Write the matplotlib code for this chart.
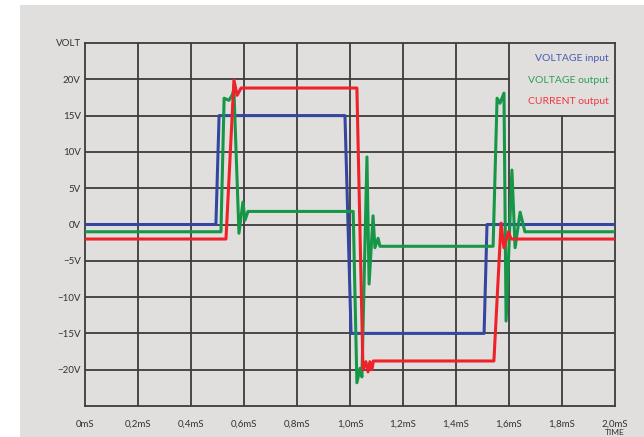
import matplotlib
matplotlib.use('Agg')
import matplotlib.pyplot as plt
from matplotlib.patches import Rectangle

# time in ms, volts
t_in = [0, 0.494, 0.506, 0.981, 1.004, 1.506, 1.517, 2.0]
v_in = [0, 0, 15, 15, -15, -15, 0, 0]

t_out = [0, 0.513, 0.525, 0.543, 0.555, 0.562, 0.581, 0.596, 0.604, 0.615, 1.012,
         1.026, 1.038, 1.045, 1.064, 1.072, 1.087, 1.094, 1.106, 1.113, 1.540,
         1.555, 1.566, 1.581, 1.589, 1.611, 1.623, 1.642, 1.660, 2.0]
v_out = [-1, -1, 17.4, 17.1, 17.8, 18.5, -1.2, 3.1, 0.6, 1.8, 1.8,
         -21.8, -19.8, -21.0, 9.3, -8.2, 1.2, -3.2, -1.9, -3.0, -3.0,
         17.4, 16.7, 18.1, -13.3, 7.5, -3.2, 1.7, -1.0, -1.0]

t_cur = [0, 0.532, 0.562, 0.574, 0.589, 1.026, 1.049, 1.060, 1.068, 1.075, 1.083,
         1.088, 1.543, 1.570, 1.581, 1.598, 1.608, 2.0]
v_cur = [-2, -2, 19.9, 17.8, 18.8, 18.8, -20.0, -18.9, -20.3, -18.9, -20.0,
         -18.8, -18.8, 0.2, -3.2, -1.0, -2.0, -2.0]

xticks = [0, 0.2, 0.4, 0.6, 0.8, 1.0, 1.2, 1.4, 1.6, 1.8, 2.0]
xlabels = ['0mS', '0,2mS', '0,4mS', '0,6mS', '0,8mS', '1,0mS', '1,2mS', '1,4mS',
           '1,6mS', '1,8mS', '2,0mS']
yticks = [-20, -15, -10, -5, 0, 5, 10, 15, 20, 25]
ylabels = ['\u221220V', '\u221215V', '\u221210V', '\u22125V', '0V', '5V', '10V',
           '15V', '20V', 'VOLT']

bg = '#e0dfde'
blue = '#3447a0'
green = '#169647'
red = '#ee2228'

plt.rcParams['font.family'] = ['Lato', 'DejaVu Sans']

fig = plt.figure(figsize=(6.44, 4.37), dpi=100)
fig.patches.append(Rectangle((20/644, 0), 1, 1 - 5/437, transform=fig.transFigure,
                             facecolor=bg, edgecolor='none', zorder=-5))
ax = fig.add_axes([85/644, 1 - 406/437, 530/644, 363/437])
ax.set_facecolor(bg)
ax.set_xlim(0, 2.0)
ax.set_ylim(-25, 25)

gc = '#3c3c3c'
for x in xticks[1:-1]:
    top = 15 if x >= 1.7 else 25
    ax.plot([x, x], [-25, top], color=gc, lw=1.3, zorder=1)
for y in yticks[:-1]:
    right = 1.6 if y >= 17 else 2.0
    ax.plot([0, right], [y, y], color=gc, lw=1.3, zorder=1)
for s in ax.spines.values():
    s.set_color(gc)
    s.set_linewidth(1.3)

ax.plot(t_in, v_in, color=blue, lw=2.2, zorder=3)
ax.plot(t_out, v_out, color=green, lw=2.2, zorder=4)
ax.plot(t_cur, v_cur, color=red, lw=2.2, zorder=5)

ax.set_xticks(xticks)
ax.set_xticklabels(xlabels)
ax.set_yticks(yticks)
ax.set_yticklabels(ylabels)
ax.tick_params(length=0, labelsize=7, colors='#333333')
ax.tick_params(axis='x', pad=10)
ax.tick_params(axis='y', pad=3)

ax.text(1.0, -0.072, 'TIME', transform=ax.transAxes, ha='center', va='center',
        fontsize=6, color='#333333')

ax.text(1.975, 22.8, 'VOLTAGE input', color='#4a5bb0', ha='right', va='center', fontsize=7.5)
ax.text(1.975, 19.9, 'VOLTAGE output', color='#2aa055', ha='right', va='center', fontsize=7.5)
ax.text(1.975, 16.9, 'CURRENT output', color='#f03a40', ha='right', va='center', fontsize=7.5)

fig.savefig('out.png', dpi=100)
